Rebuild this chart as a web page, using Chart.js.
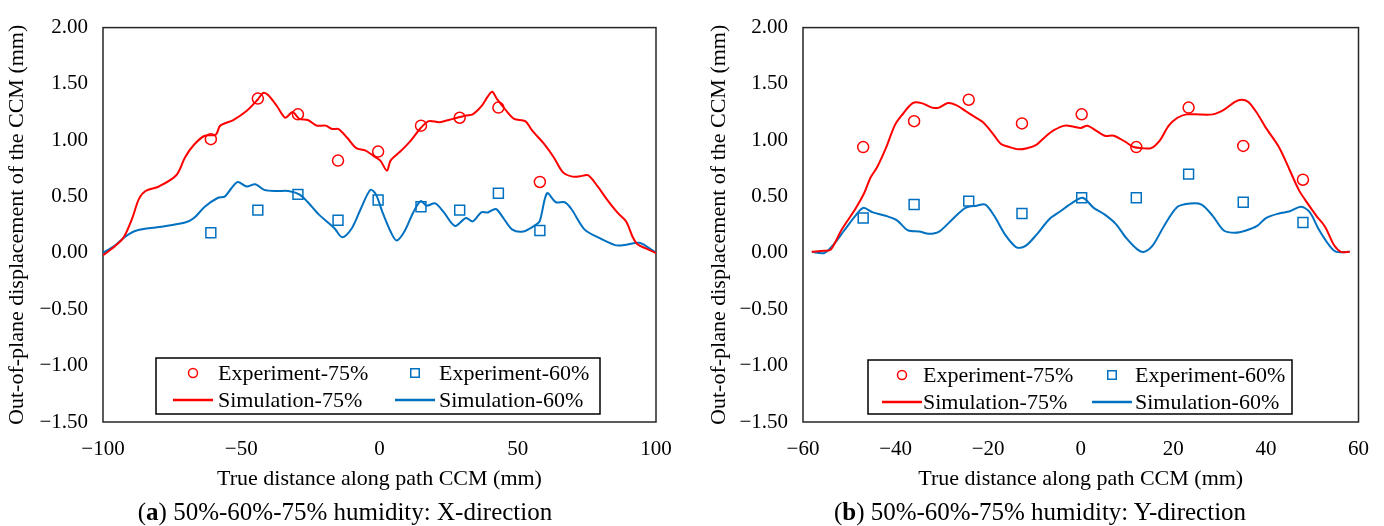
<!DOCTYPE html>
<html>
<head>
<meta charset="utf-8">
<script src="https://cdn.jsdelivr.net/npm/chart.js@4.4.1/dist/chart.umd.min.js"></script>
<style>
  body { margin: 0; background: #fff; width: 1384px; height: 526px; position: relative; overflow: hidden; font-family: "Liberation Serif", serif; }
  canvas { position: absolute; top: 0; }
  #chartX { left: 0; }
  #chartY { left: 692px; }
  .caption { position: absolute; top: 497px; font-size: 25px; line-height: 30px; white-space: nowrap; transform: translateX(-50%); color: #000; }
</style>
</head>
<body>
<canvas id="chartX" width="692" height="526"></canvas>
<canvas id="chartY" width="692" height="526"></canvas>
<div class="caption" style="left:345px">(<b>a</b>) 50%-60%-75% humidity: X-direction</div>
<div class="caption" style="left:1040px">(<b>b</b>) 50%-60%-75% humidity: Y-direction</div>
<script>
// ---- (a) X-direction ----
const sim75X_x = [-100, -95.7, -92.5, -89.4, -87.0, -84.6, -79.8, -73.5, -70.3, -67.1, -63.2, -59.2, -57.6, -52.9, -48.1, -44.1, -42.1, -40.2, -37.0, -34.1, -31.4, -29.0, -25.9, -22.7, -19.5, -17.1, -14.8, -11.6, -8.4, -5.2, -2.1, 0.3, 2.7, 4.0, 7.5, 11.4, 14.6, 17.8, 21.7, 26.5, 31.3, 33.7, 36.8, 39.2, 40.8, 42.4, 45.6, 48.7, 52.7, 55.1, 59.8, 63.0, 66.2, 69.4, 72.5, 75.4, 78.9, 82.1, 86.0, 89.2, 91.6, 93.2, 96.3, 100];
const sim75X_y = [-0.02, 0.06, 0.14, 0.31, 0.48, 0.55, 0.59, 0.69, 0.85, 0.96, 1.04, 1.05, 1.13, 1.18, 1.26, 1.36, 1.42, 1.40, 1.30, 1.20, 1.25, 1.19, 1.18, 1.13, 1.13, 1.10, 1.10, 1.02, 0.93, 0.91, 0.86, 0.82, 0.73, 0.82, 0.90, 1.00, 1.10, 1.17, 1.16, 1.19, 1.22, 1.23, 1.30, 1.39, 1.43, 1.37, 1.27, 1.19, 1.17, 1.09, 0.96, 0.85, 0.72, 0.68, 0.68, 0.69, 0.59, 0.48, 0.36, 0.28, 0.14, 0.08, 0.04, 0.00];
const sim60X_x = [-100, -95.7, -91.7, -87.8, -79.8, -70.3, -67.1, -63.2, -58.4, -56.0, -53.7, -51.3, -48.1, -44.9, -41.7, -37.0, -33.0, -29.0, -25.9, -21.9, -16.3, -13.5, -10.0, -6.8, -3.3, -1.3, 1.1, 4.0, 6.2, 9.0, 12.2, 14.9, 17.0, 20.2, 23.3, 27.3, 31.3, 33.7, 36.8, 39.2, 42.1, 44.8, 47.9, 51.9, 55.9, 57.9, 60.6, 63.8, 67.0, 69.4, 74.1, 78.9, 85.2, 88.4, 93.9, 97.1, 100];
const sim60X_y = [0.00, 0.065, 0.15, 0.20, 0.23, 0.27, 0.31, 0.41, 0.49, 0.50, 0.57, 0.63, 0.59, 0.61, 0.56, 0.55, 0.55, 0.52, 0.45, 0.34, 0.22, 0.14, 0.22, 0.39, 0.56, 0.52, 0.36, 0.19, 0.11, 0.19, 0.36, 0.46, 0.42, 0.44, 0.36, 0.24, 0.31, 0.28, 0.36, 0.36, 0.39, 0.31, 0.21, 0.19, 0.24, 0.28, 0.53, 0.45, 0.45, 0.39, 0.21, 0.14, 0.07, 0.07, 0.09, 0.05, 0.00];
const expX_x = [-61, -44, -29.5, -15, -0.5, 15, 29, 43, 58];
const exp75X = [1.01, 1.37, 1.23, 0.82, 0.90, 1.13, 1.20, 1.29, 0.63];
const exp60X = [0.18, 0.38, 0.52, 0.29, 0.47, 0.41, 0.38, 0.53, 0.20];

// ---- (b) Y-direction ----
const sim75Y_x = [-58.1, -55.4, -54.0, -51.6, -48.7, -46.8, -45.4, -44.0, -42.1, -40.2, -38.7, -36.3, -34.4, -32.1, -30.6, -28.7, -26.8, -24.9, -23.0, -21.1, -19.0, -17.3, -15.4, -13.5, -11.6, -9.6, -7.7, -5.8, -3.4, -1.5, 0.0, 1.4, 2.8, 5.2, 7.1, 9.5, 11.4, 13.3, 15.2, 17.1, 19.0, 20.9, 22.8, 24.7, 28.5, 30.9, 33.3, 34.7, 36.2, 38.1, 40.0, 42.8, 45.2, 47.1, 49.0, 50.9, 52.8, 54.7, 56.2, 58.1];
const sim75Y_y = [0.01, 0.02, 0.03, 0.21, 0.39, 0.53, 0.67, 0.76, 0.93, 1.13, 1.22, 1.33, 1.33, 1.29, 1.29, 1.33, 1.31, 1.26, 1.21, 1.16, 1.06, 0.97, 0.94, 0.92, 0.93, 0.96, 1.03, 1.09, 1.13, 1.12, 1.11, 1.13, 1.10, 1.04, 1.04, 0.99, 0.94, 0.93, 0.93, 1.00, 1.13, 1.20, 1.23, 1.23, 1.23, 1.27, 1.34, 1.36, 1.34, 1.24, 1.11, 0.94, 0.73, 0.56, 0.44, 0.33, 0.23, 0.07, 0.01, 0.01];
const sim60Y_x = [-58.1, -55.4, -53.5, -51.1, -48.7, -47.0, -44.9, -42.1, -39.7, -37.3, -34.9, -32.8, -30.6, -27.7, -24.9, -22.5, -20.6, -18.7, -16.3, -13.9, -12.0, -9.6, -6.8, -4.4, -2.0, 0.4, 2.8, 5.2, 7.5, 9.9, 12.3, 13.7, 15.6, 18.0, 20.9, 23.7, 26.1, 28.5, 30.9, 33.3, 35.7, 38.1, 40.0, 42.8, 45.2, 47.6, 49.5, 51.4, 53.8, 55.2, 58.1];
const sim60Y_y = [0.01, 0.00, 0.07, 0.20, 0.33, 0.40, 0.36, 0.33, 0.29, 0.20, 0.19, 0.17, 0.19, 0.30, 0.40, 0.42, 0.43, 0.33, 0.16, 0.05, 0.06, 0.16, 0.30, 0.37, 0.44, 0.49, 0.40, 0.34, 0.26, 0.13, 0.03, 0.01, 0.07, 0.24, 0.41, 0.44, 0.43, 0.33, 0.20, 0.18, 0.20, 0.24, 0.31, 0.35, 0.37, 0.41, 0.36, 0.21, 0.06, 0.01, 0.01];
const expY_x = [-47, -36, -24.2, -12.7, 0.2, 12, 23.3, 35.1, 48];
const exp75Y = [0.94, 1.17, 1.36, 1.15, 1.23, 0.94, 1.29, 0.95, 0.65];
const exp60Y = [0.31, 0.43, 0.46, 0.35, 0.49, 0.49, 0.70, 0.45, 0.27];

const RED = '#ff0000';
const BLUE = '#0070c0';
const FONT = '"Liberation Serif", "Times New Roman", serif';

const zip = (xs, ys) => xs.map((x, i) => ({ x: x, y: ys[i] }));
const minus = (v, d) => (v < 0 ? '\u2212' : '') + Math.abs(v).toFixed(d);

// black frame round the plot area
const frame = {
  id: 'frame',
  beforeDatasetsDraw(chart) {
    const a = chart.chartArea;
    const ctx = chart.ctx;
    ctx.save();
    ctx.strokeStyle = '#262626';
    ctx.lineWidth = 1.5;
    ctx.strokeRect(a.left, a.top, a.right - a.left, a.bottom - a.top);
    ctx.restore();
  }
};

// boxed 2x2 legend inside the plot
const boxLegend = {
  id: 'boxLegend',
  afterDatasetsDraw(chart, args, o) {
    const ctx = chart.ctx;
    ctx.save();
    ctx.fillStyle = '#fff';
    ctx.fillRect(o.x, o.y, o.w, o.h);
    ctx.strokeStyle = '#000';
    ctx.lineWidth = 1.5;
    ctx.strokeRect(o.x, o.y, o.w, o.h);
    ctx.font = '22px ' + FONT;
    ctx.textBaseline = 'middle';
    chart.data.datasets.forEach((ds, i) => {
      const col = i % 2;
      const row = Math.floor(i / 2);
      const mx = o.x + o.mark[col];
      const my = o.y + o.rows[row];
      if (ds.showLine) {
        ctx.strokeStyle = ds.borderColor;
        ctx.lineWidth = 2.5;
        ctx.beginPath();
        ctx.moveTo(mx - 20, my);
        ctx.lineTo(mx + 20, my);
        ctx.stroke();
      } else {
        ctx.strokeStyle = ds.borderColor;
        ctx.fillStyle = 'rgba(0,0,0,0)';
        ctx.lineWidth = 1.5;
        Chart.helpers.drawPoint(ctx, { pointStyle: ds.pointStyle, radius: ds.pointStyle === 'rect' ? 6 : 4.5, borderWidth: 1.5, rotation: 0 }, mx, my);
      }
      ctx.fillStyle = '#000';
      ctx.fillText(ds.label, o.x + o.text[col], my + 1);
    });
    ctx.restore();
  }
};

function makeChart(id, d) {
  return new Chart(document.getElementById(id), {
    type: 'scatter',
    data: {
      datasets: [
        { label: 'Experiment-75%', data: zip(d.expX, d.exp75), pointStyle: 'circle', pointRadius: 5.5, borderColor: RED, backgroundColor: 'rgba(0,0,0,0)', pointBorderWidth: 1.5, showLine: false, order: 1 },
        { label: 'Experiment-60%', data: zip(d.expX, d.exp60), pointStyle: 'rect', pointRadius: 7, borderColor: BLUE, backgroundColor: 'rgba(0,0,0,0)', pointBorderWidth: 1.5, showLine: false, order: 1 },
        { label: 'Simulation-75%', data: zip(d.s75x, d.s75y), borderColor: RED, borderWidth: 2, pointRadius: 0, showLine: true, tension: 0.3, order: 2 },
        { label: 'Simulation-60%', data: zip(d.s60x, d.s60y), borderColor: BLUE, borderWidth: 2, pointRadius: 0, showLine: true, tension: 0.3, order: 2 }
      ]
    },
    options: {
      responsive: false,
      animation: false,
      devicePixelRatio: 1,
      layout: { padding: { left: 0, top: 16, right: d.padRight, bottom: 34 } },
      plugins: {
        legend: { display: false },
        tooltip: { enabled: false },
        boxLegend: d.legend
      },
      scales: {
        x: {
          type: 'linear',
          min: d.xMin, max: d.xMax,
          grid: { display: false, drawTicks: false },
          border: { display: false },
          ticks: { stepSize: d.xStep, padding: 15, color: '#000', font: { family: FONT, size: 21 }, callback: v => minus(v, 0) },
          title: { display: true, text: 'True distance along path CCM (mm)', color: '#000', font: { family: FONT, size: 22 }, padding: 0 },
          afterFit: s => { s.height = 70; }
        },
        y: {
          min: -1.5, max: 2,
          grid: { display: false, drawTicks: false },
          border: { display: false },
          ticks: { stepSize: 0.5, padding: 15, color: '#000', font: { family: FONT, size: 21 }, callback: v => minus(v, 2) },
          title: { display: true, text: 'Out-of-plane displacement of the CCM (mm)', color: '#000', font: { family: FONT, size: 22 }, padding: { top: d.yTitlePad, bottom: 0 } },
          afterFit: s => { s.width = d.yWidth; }
        }
      }
    },
    plugins: [frame, boxLegend]
  });
}

makeChart('chartX', {
  expX: expX_x, exp75: exp75X, exp60: exp60X,
  s75x: sim75X_x, s75y: sim75X_y, s60x: sim60X_x, s60y: sim60X_y,
  xMin: -100, xMax: 100, xStep: 50,
  yWidth: 103, padRight: 36, yTitlePad: 4,
  legend: { x: 156, y: 358, w: 444, h: 56, rows: [15, 42], mark: [37, 259], text: [62, 283] }
});

makeChart('chartY', {
  expX: expY_x, exp75: exp75Y, exp60: exp60Y,
  s75x: sim75Y_x, s75y: sim75Y_y, s60x: sim60Y_x, s60y: sim60Y_y,
  xMin: -60, xMax: 60, xStep: 20,
  yWidth: 111, padRight: 25, yTitlePad: 14,
  legend: { x: 176, y: 360, w: 424, h: 54, rows: [15, 42], mark: [34, 244], text: [55, 267] }
});
</script>
</body>
</html>
